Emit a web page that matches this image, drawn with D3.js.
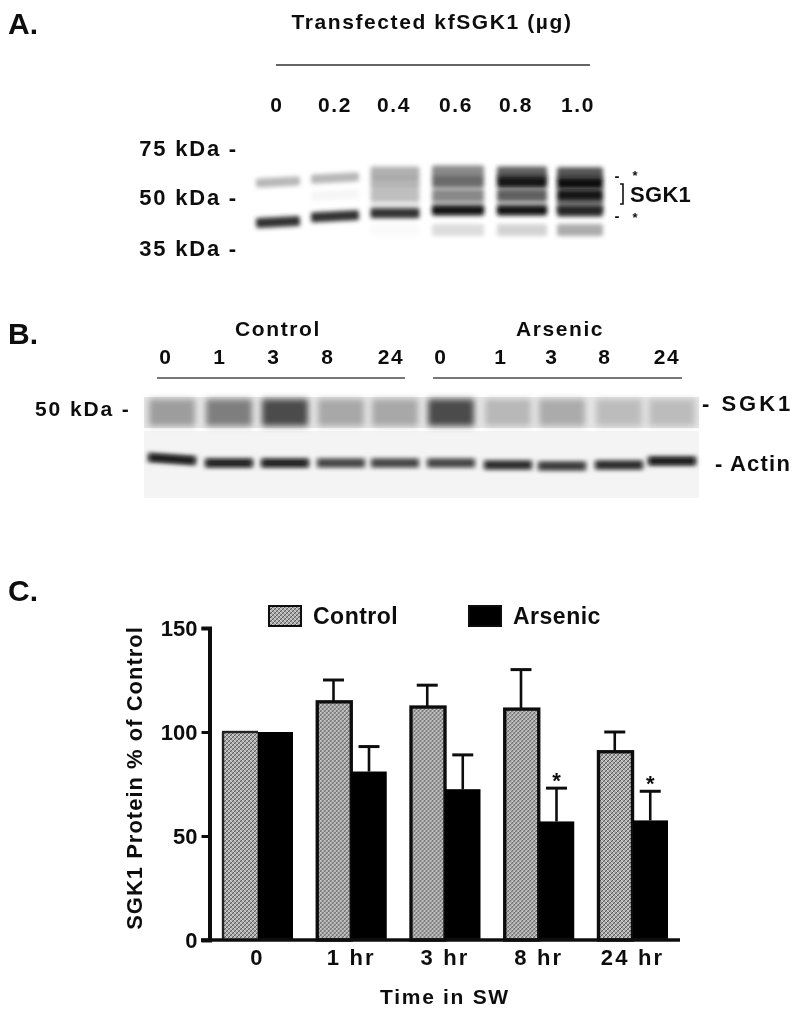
<!DOCTYPE html>
<meta charset="utf-8">
<style>
html, body { margin: 0; background: #fff; }
text { font-family: "Liberation Sans", Arial, sans-serif; font-weight: 700; fill: #111; }
</style>
<body>
<script src="https://cdn.jsdelivr.net/npm/d3@7"></script>
<script>

// panel A: blot
var doseLabels = ["0", "0.2", "0.4", "0.6", "0.8", "1.0"];
var markerA = [75, 50, 35];
var bandMwA = [
  [56.6, 58.5, 61.2, 61.7, 61.2, 60.9],
  [56.6, 56.6, 56.0, 56.6, 56.6, 56.0],
  [50.8, 50.8, 50.8, 50.8, 50.8, 50.8],
  [47.2, 47.2, 47.2, 47.2, 47.2, 47.2],
  [42.0, 43.7, 44.6, 45.5, 45.5, 45.2],
  [39.7, 39.7, 39.7, 39.7, 39.7, 39.7]
];
var bandDensityA = [
  [0.30, 0.30, 0.32, 0.48, 0.65, 0.70],
  [0.00, 0.00, 0.30, 0.60, 0.95, 1.00],
  [0.00, 0.04, 0.26, 0.48, 0.65, 0.95],
  [0.00, 0.00, 0.10, 0.25, 0.25, 0.55],
  [0.85, 0.85, 0.85, 0.95, 0.95, 0.85],
  [0.00, 0.00, 0.02, 0.14, 0.18, 0.34]
];

// panel B: blot
var hoursB = ["0", "1", "3", "8", "24", "0", "1", "3", "8", "24"];
var sgkDensity = [0.35, 0.50, 0.75, 0.30, 0.30, 0.75, 0.22, 0.28, 0.20, 0.20];
var actinDensity = [1, 0.95, 0.95, 0.8, 0.8, 0.8, 0.9, 0.85, 0.9, 1];
var actinMw = [42.4, 42, 42, 42, 42, 42, 41.8, 41.7, 41.8, 42.2];

// panel C: bars
var timeLabels = ["0", "1 hr", "3 hr", "8 hr", "24 hr"];
var seriesNames = ["Control", "Arsenic"];
var controlValues = [100, 114.5, 112, 111, 90.5];
var arsenicValues = [100, 81, 72.5, 57, 57.5];
var controlTops = [100, 125, 122.5, 130, 100];
var arsenicTops = [100, 93, 89, 73, 71.5];
var significant = [false, false, false, true, true];
var yTicks = [0, 50, 100, 150];

var width = 800, height = 1013;

var svg = d3.select("body").append("svg")
    .attr("width", width)
    .attr("height", height)
    .style("display", "block");

var defs = svg.append("defs");

function blur(id, sx, sy) {
  defs.append("filter").attr("id", id)
      .attr("x", "-30%").attr("y", "-150%").attr("width", "160%").attr("height", "400%")
    .append("feGaussianBlur").attr("stdDeviation", sx + " " + sy);
}
blur("soft", 0.6, 0.6);
blur("band", 2.2, 2);
blur("smear", 3, 3);

// woven grey fill of the control bars
var hatch = defs.append("pattern").attr("id", "hatch")
    .attr("width", 4).attr("height", 4)
    .attr("patternUnits", "userSpaceOnUse");
hatch.append("rect").attr("width", 4).attr("height", 4).attr("fill", "#b4b4b4");
hatch.append("path").attr("d", "M0,4L4,0M-1,1L1,-1M3,5L5,3")
    .attr("stroke", "#5a5a5a").attr("stroke-width", 1.1);
hatch.append("path").attr("d", "M0,0L4,4")
    .attr("stroke", "#dedede").attr("stroke-width", 0.8);

var page = svg.append("g").attr("filter", "url(#soft)");

function label(x, y, s, size, anchor, spacing) {
  return page.append("text")
      .attr("x", x).attr("y", y)
      .attr("text-anchor", anchor || "middle")
      .attr("dominant-baseline", "central")
      .style("font-size", size + "px")
      .style("letter-spacing", (spacing === undefined ? 1.6 : spacing) + "px")
      .text(s);
}

function ink(d) { return d3.interpolateRgb("#ffffff", "#0c0c0c")(d); }

// ---- A ----
label(8, 23, "A.", 30, "start", 0);
label(432, 21, "Transfected kfSGK1 (µg)", 21);
page.append("line").attr("x1", 276).attr("x2", 590).attr("y1", 65).attr("y2", 65)
    .attr("stroke", "#333").attr("stroke-width", 1.6);

var laneA = d3.scaleOrdinal().domain(d3.range(6)).range([278, 335, 395, 458, 522, 580]);
var laneWidthA = d3.scaleOrdinal().domain(d3.range(6)).range([44, 48, 49, 52, 50, 46]);
var labelA = d3.scaleOrdinal().domain(doseLabels).range([277, 335, 394, 456, 516, 578]);
var mwA = d3.scaleLog().domain([75, 50, 35]).range([148, 197, 248]);

doseLabels.forEach(function(d) { label(labelA(d), 104, d, 21); });
markerA.forEach(function(m) { label(238, mwA(m), m + " kDa -", 22, "end", 1.8); });

var bandsA = page.append("g");
bandMwA.forEach(function(row, r) {
  row.forEach(function(mw, i) {
    var d = bandDensityA[r][i];
    if (!d) return;
    var w = laneWidthA(i), x = laneA(i), y = mwA(mw), h = r === 4 ? 10 : (i > 1 ? 12 : 9);
    bandsA.append("rect")
        .attr("x", x - w / 2).attr("y", y - h / 2)
        .attr("width", w).attr("height", h)
        .attr("rx", 2)
        .attr("fill", ink(d))
        .attr("transform", i < 2 ? "rotate(-3 " + x + " " + y + ")" : null)
        .attr("filter", "url(#band)")
        .style("mix-blend-mode", "multiply");
  });
});

label(617, 175, "-", 15, "middle", 0);
label(635, 175, "*", 13, "middle", 0);
label(617, 215, "-", 15, "middle", 0);
label(635, 217, "*", 13, "middle", 0);
page.append("path").attr("d", "M620,184H623V204H620")
    .attr("fill", "none").attr("stroke", "#111").attr("stroke-width", 1.6);
label(630, 194, "SGK1", 22, "start", 0.3);

// ---- B ----
label(8, 333, "B.", 30, "start", 0);
label(278, 328, "Control", 21);
label(560, 328, "Arsenic", 21);

var lanes = d3.range(10);
var laneB = d3.scaleOrdinal().domain(lanes)
    .range([172, 229, 285, 341, 395, 451, 508, 562, 619, 672]);
var labelB = d3.scaleOrdinal().domain(lanes)
    .range([166, 220, 274, 328, 391, 441, 501, 552, 605, 667]);
var actinY = d3.scaleLinear().domain([44, 40]).range([443, 483]);

lanes.forEach(function(i) { label(labelB(i), 356, hoursB[i], 21); });

[[157, 405], [433, 682]].forEach(function(e) {
  page.append("line").attr("x1", e[0]).attr("x2", e[1]).attr("y1", 378).attr("y2", 378)
      .attr("stroke", "#777").attr("stroke-width", 2.2);
});

label(35, 408, "50 kDa -", 21, "start", 1.9);
label(702, 403, "- SGK1", 22, "start", 3);
label(715, 463, "- Actin", 22, "start", 1.2);

var blotB = page.append("g");
blotB.append("rect").attr("x", 144).attr("y", 397).attr("width", 555).attr("height", 31)
    .attr("fill", "#e6e6e6");
blotB.append("rect").attr("x", 144).attr("y", 431).attr("width", 555).attr("height", 67)
    .attr("fill", "#f4f4f4");

lanes.forEach(function(i) {
  var ay = actinY(actinMw[i]);
  var tilt = i === 0 ? "rotate(4 " + laneB(i) + " " + ay + ")" : null;
  blotB.append("rect")
      .attr("x", laneB(i) - 23).attr("y", 399)
      .attr("width", 46).attr("height", 27)
      .attr("fill", ink(sgkDensity[i] * 0.95))
      .attr("filter", "url(#smear)")
      .style("mix-blend-mode", "multiply");
  blotB.append("rect")
      .attr("x", laneB(i) - 25).attr("y", ay - 5)
      .attr("width", 50).attr("height", 10)
      .attr("rx", 2)
      .attr("fill", ink(actinDensity[i] * 0.6))
      .attr("transform", tilt)
      .attr("filter", "url(#band)");
  blotB.append("rect")
      .attr("x", laneB(i) - 22).attr("y", ay - 3)
      .attr("width", 44).attr("height", 6)
      .attr("fill", ink(actinDensity[i]))
      .attr("transform", tilt)
      .attr("filter", "url(#band)");
});

// ---- C ----
label(8, 590, "C.", 30, "start", 0);

var x1 = d3.scaleBand().domain(seriesNames).range([0, 71]);
var y = d3.scaleLinear().domain([0, 150]).range([940, 628]);
var groupLeft = d3.scalePoint().domain(timeLabels).range([222, 597]);

var data = timeLabels.map(function(t, i) {
  return {
    time: t,
    bars: [
      {name: "Control", value: controlValues[i], top: controlTops[i]},
      {name: "Arsenic", value: arsenicValues[i], top: arsenicTops[i]}
    ],
    sig: significant[i]
  };
});

var chart = page.append("g");

var groups = chart.selectAll(".grp").data(data).enter().append("g")
    .attr("class", "grp")
    .attr("transform", function(d) { return "translate(" + groupLeft(d.time) + ",0)"; });

groups.each(function(d) {
  var g = d3.select(this);
  d.bars.forEach(function(b) {
    var bx = x1(b.name), bw = x1.bandwidth(), cx = bx + bw / 2, ctl = b.name === "Control";
    if (b.top > b.value) {
      g.append("line").attr("x1", cx).attr("x2", cx)
          .attr("y1", y(b.value)).attr("y2", y(b.top))
          .attr("stroke", "#111").attr("stroke-width", 2.6);
      g.append("line").attr("x1", cx - 10.5).attr("x2", cx + 10.5)
          .attr("y1", y(b.top)).attr("y2", y(b.top))
          .attr("stroke", "#111").attr("stroke-width", 3);
    }
    g.append("rect")
        .attr("x", ctl ? bx + 1.5 : bx).attr("y", y(b.value))
        .attr("width", ctl ? bw - 1.5 : bw).attr("height", y(0) - y(b.value))
        .attr("fill", ctl ? "url(#hatch)" : "#000")
        .attr("stroke", ctl && b.top > b.value ? "#111" : "none")
        .attr("stroke-width", 3.4);
    if (!ctl && d.sig) {
      g.append("text").attr("x", cx).attr("y", y(b.top) - 8)
          .attr("text-anchor", "middle").attr("dominant-baseline", "central")
          .style("font-size", "22px").text("*");
    }
  });
});

// first control bar has a plain edge
chart.append("rect")
    .attr("x", groupLeft("0")).attr("y", y(100) - 1.2)
    .attr("width", 36).attr("height", 2.4).attr("fill", "#222");
chart.append("line")
    .attr("x1", groupLeft("0") + 1).attr("x2", groupLeft("0") + 1)
    .attr("y1", y(100)).attr("y2", y(0))
    .attr("stroke", "#222").attr("stroke-width", 2.4);

var yAxis = chart.append("g")
    .attr("transform", "translate(209.5,0)")
    .call(d3.axisLeft(y).tickValues(yTicks).tickSize(8).tickPadding(4));
yAxis.select(".domain").attr("stroke", "#111").attr("stroke-width", 4);
yAxis.selectAll(".tick line").attr("stroke", "#111").attr("stroke-width", 3);
yAxis.selectAll("text").style("font-size", "22px").attr("fill", "#111");

chart.append("line").attr("x1", 201).attr("x2", 680).attr("y1", y(0)).attr("y2", y(0))
    .attr("stroke", "#111").attr("stroke-width", 3.4);

timeLabels.forEach(function(t) {
  label(groupLeft(t) + 35.5, 957, t, 22, "middle", 2.2);
});
label(445, 996, "Time in SW", 21, "middle", 1.7);

page.append("text")
    .attr("transform", "translate(134,778) rotate(-90)")
    .attr("text-anchor", "middle")
    .attr("dominant-baseline", "central")
    .style("font-size", "22px")
    .style("letter-spacing", "1px")
    .text("SGK1 Protein % of Control");

// legend
var legendX = d3.scaleOrdinal().domain(seriesNames).range([268, 468]);
seriesNames.forEach(function(n) {
  page.append("rect")
      .attr("x", legendX(n) + 1).attr("y", 606)
      .attr("width", 32).attr("height", 20)
      .attr("fill", n === "Control" ? "url(#hatch)" : "#000")
      .attr("stroke", "#111").attr("stroke-width", 2);
  label(legendX(n) + 45, 616, n, 23, "start", 0.5);
});

</script>
</body>
